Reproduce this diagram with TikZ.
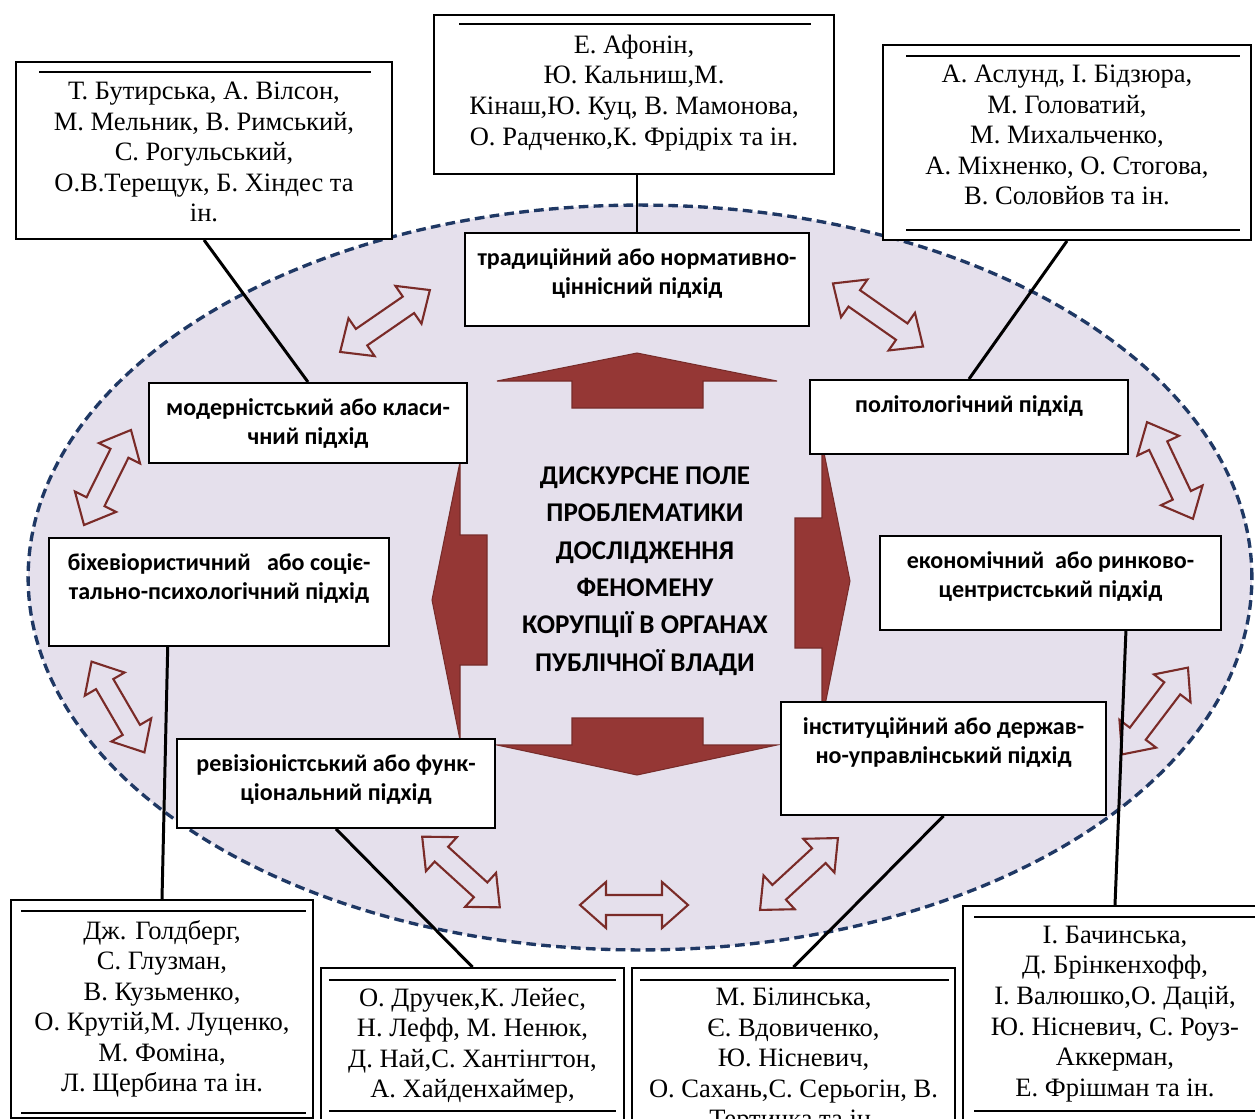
\documentclass[tikz,border=0pt]{standalone}
\usepackage{fontspec}
\setmainfont{Liberation Serif}
\newfontfamily\carlito{Carlito}
\usetikzlibrary{calc}

\definecolor{fieldfill}{RGB}{229,224,236}
\definecolor{fieldline}{RGB}{31,56,100}
\definecolor{blockred}{RGB}{149,55,53}
\definecolor{hollowred}{RGB}{122,43,40}

\newcommand{\namefont}{\fontsize{15.1}{17.4}\selectfont}
\newcommand{\appfont}{\carlito\bfseries\fontsize{13.7}{16.5}\selectfont}
\newcommand{\boxtext}[3]{\parbox[c][#2cm][t]{#1cm}{\centering #3}}

\tikzset{
  namebox/.style={draw, fill=white, line width=1.1pt, inner xsep=0.1cm, inner ysep=0.4cm, font=\namefont},
  approach/.style={draw, fill=white, line width=1.1pt, inner xsep=0.1cm, inner ysep=0.32cm, font=\appfont},
  core/.style={align=center, font=\carlito\bfseries\fontsize{15.4}{21.3}\selectfont},
  link/.style={line width=1.7pt},
  rule/.style={line width=1.5pt},
  block/.style={fill=blockred, draw=blockred!80!black, line width=0.6pt},
  twoway/.style={draw=hollowred, line width=1.2pt, line join=miter}
}

\begin{document}
\begin{tikzpicture}[x=0.02cm, y=-0.02cm]
    \useasboundingbox (0,0) rectangle (1255,1119);
    % discursive field
    \draw[fill=fieldfill, draw=fieldline, line width=1.9pt, dash pattern=on 5.5pt off 3pt]
        (640,577.5) ellipse [x radius=12.24cm, y radius=7.45cm];

    % block arrows round the centre
    \draw[block] (497,381) -- (637,353) -- (777,381) -- (703,381) -- (703,408) -- (572,408) -- (572,381) -- cycle;
    \draw[block] (572,718) -- (703,718) -- (703,745) -- (777,745) -- (637,775) -- (497,745) -- (572,745) -- cycle;
    \draw[block] (487,535) -- (487,665) -- (460,665) -- (460,740) -- (432,600) -- (460,462) -- (460,535) -- cycle;
    \draw[block] (795,518) -- (822,518) -- (822,443) -- (850,581) -- (822,720) -- (822,648) -- (795,648) -- cycle;

    \node[core] (core) at (645,571) {ДИСКУРСНЕ ПОЛЕ\\ПРОБЛЕМАТИКИ\\ДОСЛІДЖЕННЯ\\ФЕНОМЕНУ\\КОРУПЦІЇ В ОРГАНАХ\\ПУБЛІЧНОЇ ВЛАДИ};

    % double arrows between approaches
    \foreach \cx/\cy/\ang/\len in {385/321/34.6/109, 878/315/-35/110, 107.5/477.5/63.7/106,
        1170/470.5/-64.6/107, 118/707/-59.8/105, 1155/711/52.8/109,
        461/872/-42.3/105, 634/905/0/108, 799/874/42.7/106}
        \draw[twoway, shift={(\cx,\cy)}, rotate=\ang] ({-\len/2},0) -- ({-\len/2+26},23) -- ({-\len/2+26},10)
            -- ({\len/2-26},10) -- ({\len/2-26},23) -- ({\len/2},0) -- ({\len/2-26},-23) -- ({\len/2-26},-10)
            -- ({-\len/2+26},-10) -- ({-\len/2+26},-23) -- cycle;

    % approaches
    \node[approach] (trad) at (637,279.5) {\boxtext{6.68}{1.22}{традиційний або нормативно-\\ціннісний підхід}};
    \node[approach] (modern) at (308,423) {\boxtext{6.16}{0.96}{модерністський або класи-\\чний підхід}};
    \node[approach] (polit) at (969,417) {\boxtext{6.16}{0.84}{політологічний підхід}};
    \node[approach] (behav) at (219,592) {\boxtext{6.6}{1.52}{біхевіористичний~~~або соціє-\\тально-психологічний підхід}};
    \node[approach] (econ) at (1050.5,583) {\boxtext{6.62}{1.24}{економічний~~або ринково-\\центристський підхід}};
    \node[approach] (rev) at (336,783.5) {\boxtext{6.16}{1.14}{ревізіоністський або функ-\\ціональний підхід}};
    \node[approach] (inst) at (943.5,758.5) {\boxtext{6.3}{1.62}{інституційний або держав-\\но-управлінський підхід}};

    % authors
    \node[namebox] (tl) at (204,150.5) {\boxtext{7.32}{2.74}{Т. Бутирська, А. Вілсон,\\М. Мельник, В. Римський,\\С. Рогульський,\\О.В.Терещук, Б. Хіндес та\\ін.}};
    \node[namebox] (tc) at (634,94.5) {\boxtext{7.8}{2.38}{Е. Афонін,\\Ю. Кальниш,М.\\Кінаш,Ю. Куц, В. Мамонова,\\О. Радченко,К. Фрідріх та ін.}};
    \node[namebox] (tr) at (1067,142.5) {\boxtext{7.16}{3.1}{А. Аслунд, І. Бідзюра,\\М. Головатий,\\М. Михальченко,\\А. Міхненко, О. Стогова,\\В. Соловйов та ін.}};
    \node[namebox] (bl) at (162,1009) {\boxtext{5.84}{3.56}{Дж. Голдберг,\\С. Глузман,\\В. Кузьменко,\\О. Крутій,М. Луценко,\\М. Фоміна,\\Л. Щербина та ін.}};
    \node[namebox] (bcl) at (472.5,1045.5) {\boxtext{5.86}{2.3}{О. Дручек,К. Лейес,\\Н. Лефф, М. Ненюк,\\Д. Най,С. Хантінгтон,\\А. Хайденхаймер,}};
    \node[namebox] (bcr) at (793.5,1061) {\boxtext{6.26}{2.92}{М. Білинська,\\Є. Вдовиченко,\\Ю. Нісневич,\\О. Сахань,С. Серьогін, В.\\Тертичка та ін.}};
    \node[namebox] (br) at (1115,1014.5) {\boxtext{5.88}{3.54}{І. Бачинська,\\Д. Брінкенхофф,\\І. Валюшко,О. Дацій,\\Ю. Нісневич, С. Роуз-\\Аккерман,\\Е. Фрішман та ін.}};

    \foreach \n/\l/\r/\d in {tl/24/22/11, tc/26/24/10, tr/24/12/12, bl/11/8/12, bcl/9/9/13, bcr/9/7/13, br/12/0/12}
        \draw[rule] ([shift={(\l,\d)}]\n.north west) -- ([shift={(-\r,\d)}]\n.north east);
    \foreach \n/\l/\r/\d in {tr/24/12/11, bl/11/8/6, bcl/9/9/13, br/12/0/13}
        \draw[rule] ([shift={(\l,-\d)}]\n.south west) -- ([shift={(-\r,-\d)}]\n.south east);

    % links
    \draw[link] (tl.south) -- (modern.north);
    \draw[link] (trad.north |- tc.south) -- (trad.north);
    \draw[link] (tr.south) -- (polit.north);
    \draw[link] ($(behav.south west)!0.35!(behav.south east)$) -- (bl.north);
    \draw[link] (rev.south) -- (bcl.north);
    \draw[link] (inst.south) -- (bcr.north);
    \draw[link] ($(econ.south west)!0.72!(econ.south east)$) -- (br.north);
\end{tikzpicture}
\end{document}
